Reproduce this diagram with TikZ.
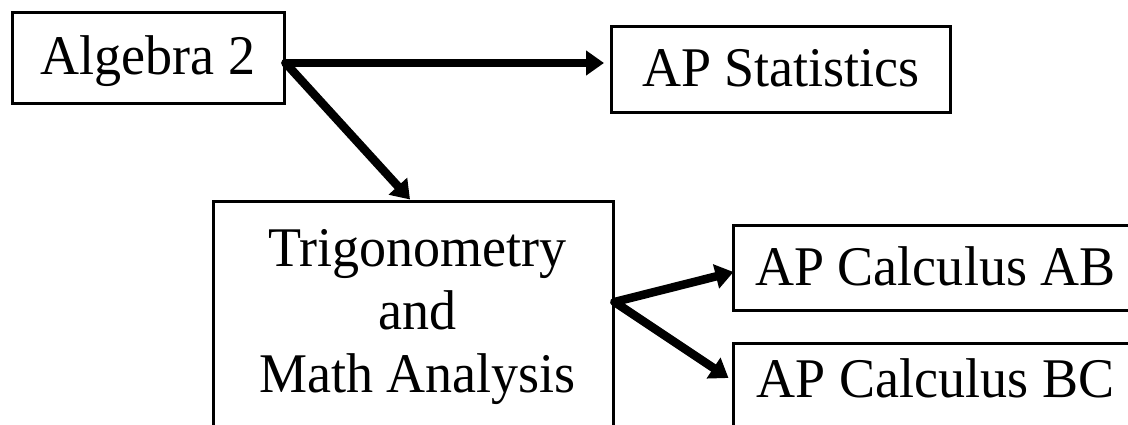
\documentclass[tikz,border=0pt]{standalone}
\usepackage{fontspec}
\setmainfont[FakeStretch=0.965]{Liberation Serif}
\usetikzlibrary{arrows.meta}
\begin{document}
\begin{tikzpicture}[x=1pt,y=-1pt]
		\tikzstyle{box} = [draw, line width=3pt, inner sep=0, font=\fontsize{56}{63}\selectfont]
		\tikzstyle{bigarrow} = [-{Triangle[length=18pt,width=24pt]}, line width=8.5pt, line cap=round]
		\clip (0,0) rectangle (1128,425);
		\node [box, minimum width=272pt, minimum height=91pt, text height=38pt, text depth=5pt] (v1) at (148,58.5) {Algebra 2\hspace{11pt}};
		\node [box, minimum width=339pt, minimum height=86pt, text height=38pt, text depth=4pt] (v2) at (781,70) {AP Statistics\hspace{9pt}};
		\node [box, align=center, minimum width=400pt, minimum height=230pt] (v3) at (413,317) {\hspace{9pt}Trigonometry\\\hspace{9pt}and\\\hspace{9pt}Math Analysis};
		\node [box, minimum width=405pt, minimum height=85pt, text height=38pt, text depth=3pt] (v4) at (935.5,267.5) {AP Calculus AB};
		\node [box, minimum width=405pt, minimum height=87pt, text height=38pt, text depth=17pt] (v5) at (935.5,386.5) {AP Calculus BC};
		\draw [bigarrow] ([yshift=-4.5pt]v1.east) -- ([xshift=-6pt,yshift=7pt]v2.west);
		\draw [bigarrow] ([yshift=-4.5pt]v1.east) -- ([xshift=-3pt,yshift=1pt]v3.north);
		\draw [bigarrow] ([yshift=15pt]v3.east) -- ([xshift=2pt,yshift=-4.5pt]v4.west);
		\draw [bigarrow] ([yshift=15pt]v3.east) -- ([xshift=-3pt,yshift=8.5pt]v5.west);
\end{tikzpicture}
\end{document}
